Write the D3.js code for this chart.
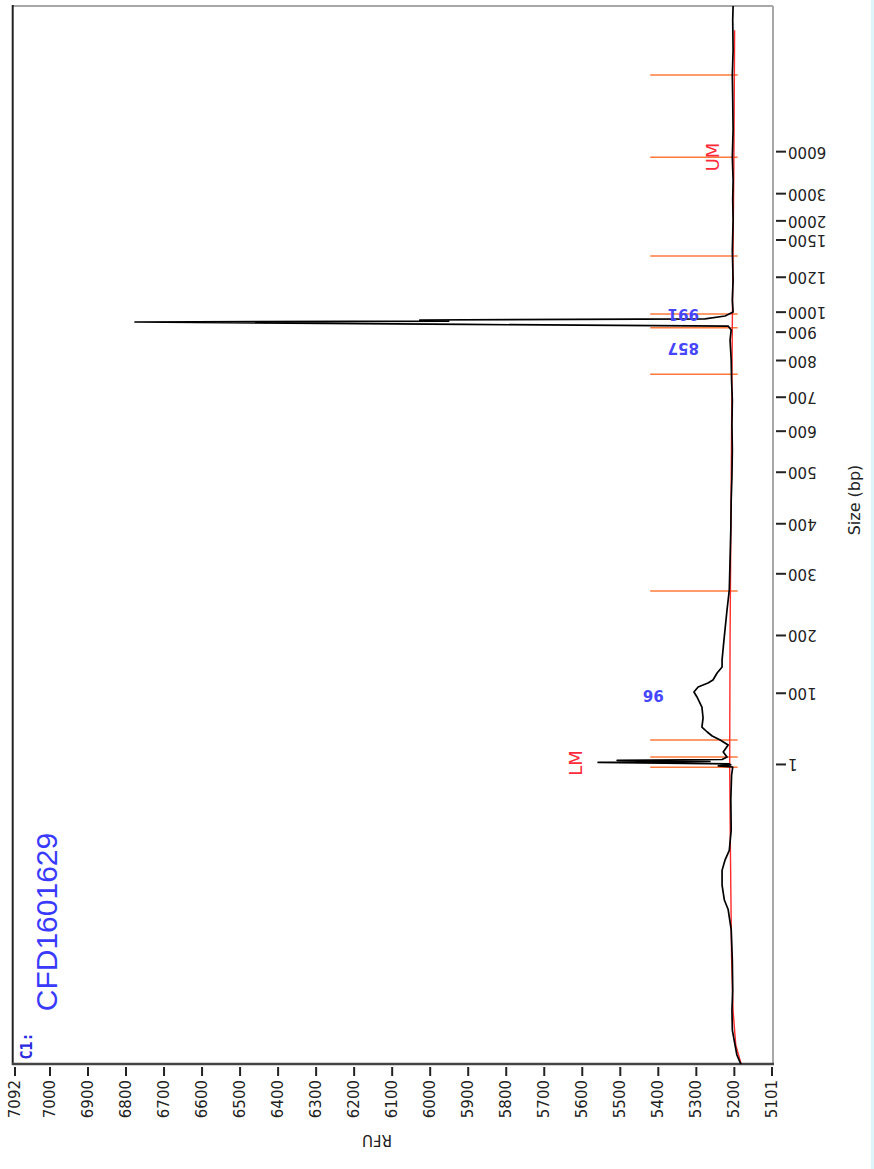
<!DOCTYPE html>
<meta charset="utf-8">
<style>
body { margin: 0; background: #fff; }
svg { display: block; }
.axis text { font-family: "DejaVu Sans", sans-serif; font-size: 15px; fill: #222; }
.axis line { stroke: #222; stroke-width: 2px; }
</style>
<svg width="874" height="1169"></svg>
<script src="https://cdn.jsdelivr.net/npm/d3@7"></script>
<script>
// chart drawn turned a quarter turn: migration time runs up, RFU runs left
var svg = d3.select("svg");

// RFU axis ticks
var rfuTicks = [7092, 7000, 6900, 6800, 6700, 6600, 6500, 6400, 6300, 6200, 6100,
                6000, 5900, 5800, 5700, 5600, 5500, 5400, 5300, 5200, 5101];

// ladder: size (bp) and its migration time (% of run)
var ladderSizes = [1, 100, 200, 300, 400, 500, 600, 700, 800, 900, 1000, 1200, 1500, 2000, 3000, 6000];
var ladderTimes = [28.36, 35.09, 40.55, 46.38, 51.11, 55.98, 59.86, 63.07, 66.54, 69.22, 71.11, 74.41, 77.93, 79.74, 82.31, 86.28];

// trace
var traceTime = [0, 0.1, 0.85, 1.8, 3.2, 5.1, 7.0, 9.8, 12.7, 14.6, 15.5, 16.9, 18.3, 19.3, 20.2, 22.1, 25.0, 27.3,
                 28.07, 28.17, 28.26, 28.36, 28.50, 28.59, 28.69, 28.78, 29.02, 29.49, 30.15, 30.62,
                 31.00, 31.38, 31.85, 32.70, 33.74, 34.69, 35.16, 35.63, 36.01, 36.29, 36.96, 37.52, 38.19,
                 40.08, 42.91, 44.80, 47.64, 50.5, 53.31, 55.6, 58.03, 60.4, 62.76, 64.6, 66.54, 68.43,
                 69.38, 69.75, 69.90, 70.13, 70.22, 70.32, 70.43, 70.70, 71.08,
                 72.2, 74.1, 76.9, 79.8, 81.7, 83.5, 85.7, 88.3, 91.1, 93.5, 95.8, 98.7, 100];
var traceRFU  = [5180, 5183, 5192, 5197, 5204, 5205, 5203, 5204, 5207, 5215, 5225, 5231, 5231, 5223, 5212, 5207, 5208, 5206,
                 5203, 5241, 5208, 5212, 5557, 5263, 5507, 5231, 5218, 5228, 5215, 5236,
                 5257, 5270, 5284, 5281, 5284, 5297, 5305, 5294, 5268, 5255, 5244, 5231, 5231,
                 5226, 5218, 5212, 5210, 5208, 5207, 5205, 5204, 5205, 5204, 5206, 5207, 5210,
                 5207, 5215, 5907, 6775, 5950, 6026, 5276, 5223, 5202,
                 5204, 5202, 5204, 5202, 5203, 5202, 5204, 5202, 5203, 5204, 5202, 5203, 5202];

// baseline
var baseTime = [0, 1.8, 5, 10, 20, 28, 40, 60, 70, 85, 97.7];
var baseRFU  = [5181, 5195, 5202, 5206, 5209, 5211, 5210, 5206, 5204, 5200, 5198];

// peak boundary markers
var markerTimes = [28.04, 29.02, 30.62, 44.71, 65.19, 69.59, 70.89, 76.37, 85.70, 93.48];
var markerSpan = [5190, 5420];

// labels
var peakLabels = [{t: 34.88, v: 5412, s: "96"}, {t: 67.67, v: 5333, s: "857"}, {t: 70.89, v: 5333, s: "991"}];
var markerLabels = [{t: 28.45, v: 5617, s: "LM"}, {t: 85.73, v: 5257, s: "UM"}];

var x = d3.scaleLinear().domain([7092, 5101]).range([14.5, 771.5]);
var y = d3.scaleLinear().domain([0, 100]).range([1064, 6]);

// light strip at right edge
svg.append("rect").attr("x", 871).attr("y", 0).attr("width", 3).attr("height", 1169).attr("fill", "#dcf6fb");

// frame
svg.append("line").attr("x1", 12.7).attr("x2", 773).attr("y1", 6).attr("y2", 6).attr("stroke", "#a8a8a8").attr("stroke-width", 2);
svg.append("line").attr("x1", 773).attr("x2", 773).attr("y1", 6).attr("y2", 1064).attr("stroke", "#a8a8a8").attr("stroke-width", 2);
svg.append("line").attr("x1", 12.7).attr("x2", 12.7).attr("y1", 5).attr("y2", 1065).attr("stroke", "#222").attr("stroke-width", 2);
svg.append("line").attr("x1", 12).attr("x2", 774).attr("y1", 1064).attr("y2", 1064).attr("stroke", "#444").attr("stroke-width", 2.5);

// RFU axis
var xAxis = svg.append("g").attr("class", "axis")
    .attr("transform", "translate(0,1067)")
    .call(d3.axisBottom(x).tickValues(rfuTicks).tickSize(9).tickFormat(d3.format("d")));
xAxis.select(".domain").remove();
xAxis.selectAll("text")
    .attr("y", null).attr("dy", null)
    .attr("transform", "translate(0,13) rotate(-90)")
    .attr("text-anchor", "end")
    .attr("dominant-baseline", "central");

// size axis
var yAxis = svg.append("g").attr("class", "axis")
    .attr("transform", "translate(776,0)")
    .call(d3.axisRight(y).tickValues(ladderTimes).tickSize(10)
        .tickFormat(function(d, i) { return ladderSizes[i]; }));
yAxis.select(".domain").remove();
yAxis.selectAll("text")
    .attr("x", null).attr("dy", null)
    .attr("transform", "translate(12,0) rotate(180)")
    .attr("text-anchor", "end")
    .attr("dominant-baseline", "central");

svg.append("text")
    .attr("transform", "translate(377,1140) rotate(180)")
    .attr("text-anchor", "middle").attr("dominant-baseline", "central")
    .style("font-family", "DejaVu Sans").style("font-size", "15px").style("fill", "#222")
    .text("RFU");
svg.append("text")
    .attr("transform", "translate(854,500) rotate(-90)")
    .attr("text-anchor", "middle").attr("dominant-baseline", "central")
    .style("font-family", "DejaVu Sans").style("font-size", "16px").style("fill", "#222")
    .text("Size (bp)");

// marker lines
svg.append("g").selectAll("line")
    .data(markerTimes)
    .enter().append("line")
    .attr("x1", x(markerSpan[1])).attr("x2", x(markerSpan[0]))
    .attr("y1", function(d) { return y(d); }).attr("y2", function(d) { return y(d); })
    .attr("stroke", "#ff7a3c").attr("stroke-width", 1.5);

// baseline
var baseLine = d3.line()
    .x(function(d, i) { return x(baseRFU[i]); })
    .y(function(d) { return y(d); });
svg.append("path").attr("d", baseLine(baseTime))
    .attr("fill", "none").attr("stroke", "#ff2a2a").attr("stroke-width", 1.4);

// trace
var traceLine = d3.line()
    .x(function(d, i) { return x(traceRFU[i]); })
    .y(function(d) { return y(d); });
svg.append("path").attr("d", traceLine(traceTime))
    .attr("fill", "none").attr("stroke", "#000").attr("stroke-width", 1.7)
    .attr("stroke-linejoin", "round");

// peak labels
svg.append("g").selectAll("text")
    .data(peakLabels)
    .enter().append("text")
    .attr("transform", function(d) { return "translate(" + x(d.v) + "," + y(d.t) + ") rotate(180)"; })
    .attr("text-anchor", "middle").attr("dominant-baseline", "central")
    .style("font-family", "DejaVu Sans").style("font-size", "15px").style("font-weight", "bold")
    .style("fill", "#4646ff")
    .text(function(d) { return d.s; });

svg.append("g").selectAll("text")
    .data(markerLabels)
    .enter().append("text")
    .attr("transform", function(d) { return "translate(" + x(d.v) + "," + y(d.t) + ") rotate(-90)"; })
    .attr("text-anchor", "middle").attr("dominant-baseline", "central")
    .style("font-family", "DejaVu Sans").style("font-size", "18px")
    .style("fill", "#ff2a3a")
    .text(function(d) { return d.s; });

// sample name
svg.append("text")
    .attr("transform", "translate(46,922) rotate(-90)")
    .attr("text-anchor", "middle").attr("dominant-baseline", "central")
    .style("font-family", "Liberation Sans").style("font-size", "30px")
    .style("fill", "#3a3aff")
    .text("CFD1601629");
svg.append("text")
    .attr("transform", "translate(27,1046) rotate(-90)")
    .attr("text-anchor", "middle").attr("dominant-baseline", "central")
    .style("font-family", "DejaVu Sans Mono").style("font-size", "15px").style("font-weight", "bold")
    .style("fill", "#2a2ae0")
    .text("C1:");
</script>
